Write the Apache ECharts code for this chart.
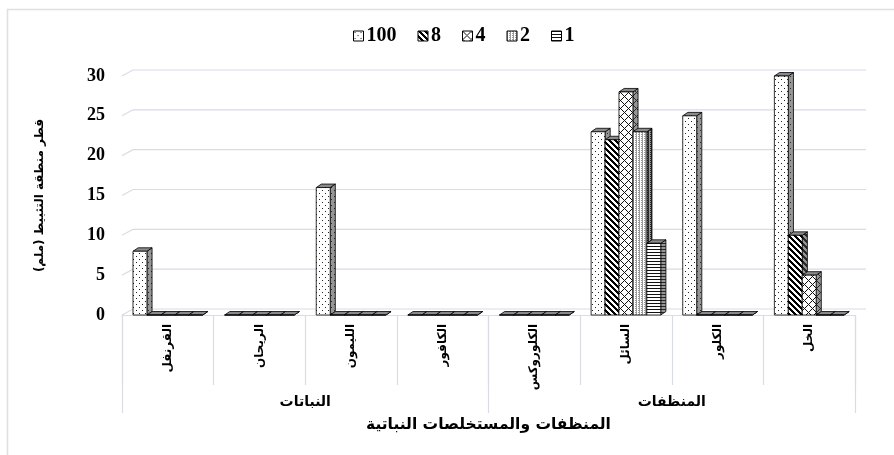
<!DOCTYPE html>
<html>
<head>
<meta charset="utf-8">
<style>
  html, body { margin: 0; padding: 0; background: #fff; }
  #chart { width: 894px; height: 455px; }
</style>
<script src="https://cdn.jsdelivr.net/npm/echarts@6/dist/echarts.min.js"></script>
</head>
<body>
<div id="chart"></div>
<script>
// Inhibition-zone diameters (mm) per agent, one list per concentration
const categories = ['القرنفل', 'الريحان', 'الليمون', 'الكافور', 'الكلوروكس', 'السائل', 'الكلور', 'الخل'];
const groups = ['النباتات', 'المنظفات'];
const seriesNames = ['100', '8', '4', '2', '1'];
const conc100 = [8, 0, 16, 0, 0, 23, 25, 30];
const conc8   = [0, 0, 0, 0, 0, 22, 0, 10];
const conc4   = [0, 0, 0, 0, 0, 28, 0, 5];
const conc2   = [0, 0, 0, 0, 0, 23, 0, 0];
const conc1   = [0, 0, 0, 0, 0, 9, 0, 0];
const yTicks  = [0, 5, 10, 15, 20, 25, 30];

const seriesValues = [conc100, conc8, conc4, conc2, conc1];

// --- hatch fills -------------------------------------------------------
function tile(w, h, bg, ink, test) {
  const c = document.createElement('canvas');
  c.width = w; c.height = h;
  const g = c.getContext('2d');
  g.fillStyle = bg; g.fillRect(0, 0, w, h);
  g.fillStyle = ink;
  for (let y = 0; y < h; y++) for (let x = 0; x < w; x++) if (test(x, y)) g.fillRect(x, y, 1, 1);
  return { image: c, repeat: 'repeat' };
}
const patternTests = [
  // sparse dots
  [6, 6, (x, y) => (x === 1 && y === 1) || (x === 4 && y === 4)],
  // wide downward diagonal
  [6, 6, (x, y) => ((x - y + 12) % 6) < 3],
  // diagonal lattice
  [8, 8, (x, y) => ((x + y) % 8 === 0) || ((x - y + 8) % 8 === 0)],
  // fine grey grid
  [3, 2, (x, y) => x === 0 || (y === 0 && x === 2)],
  // horizontal lines
  [1, 3, (x, y) => y === 0]
];
const inkFront = ['#222', '#000', '#111', '#9a9a9a', '#111'];
const frontFills = patternTests.map((p, i) => tile(p[0], p[1], '#ffffff', inkFront[i], p[2]));
const sideFills  = patternTests.map((p, i) => tile(p[0], p[1], '#969696', '#2a2a2a', p[2]));

// --- 3D column drawing -------------------------------------------------
function barRenderer(k) {
  return function (params, api) {
    const cat = api.value(0), v = api.value(1);
    const top = api.coord([cat, v]);
    const base = api.coord([cat, 0]);
    const band = api.size([1, 0])[0];
    const bw = band * 0.152;
    const dx = bw * 0.37, dy = bw * 0.25;
    const x0 = top[0] + (k - 2.5) * bw, x1 = x0 + bw;
    const yt = top[1], yb = base[1];
    const line = { stroke: '#000', lineWidth: 0.8 };
    return {
      type: 'group',
      children: [
        { type: 'polygon', shape: { points: [[x1, yt], [x1 + dx, yt - dy], [x1 + dx, yb - dy], [x1, yb]] },
          style: Object.assign({ fill: sideFills[k] }, line) },
        { type: 'polygon', shape: { points: [[x0, yt], [x0 + dx, yt - dy], [x1 + dx, yt - dy], [x1, yt]] },
          style: Object.assign({ fill: '#8a8a8a' }, line) },
        { type: 'rect', shape: { x: x0, y: yt, width: bw, height: yb - yt },
          style: Object.assign({ fill: frontFills[k] }, line) }
      ]
    };
  };
}

// back-wall gridlines with a short depth slant at the left
function gridRenderer(params, api) {
  const cs = params.coordSys;
  const y = api.coord([0, api.value(1)])[1];
  return {
    type: 'polyline',
    shape: { points: [[cs.x, y], [cs.x + 11, y - 6], [cs.x + cs.width + 11, y - 6]] },
    style: { stroke: '#d9dce6', lineWidth: 1.2, fill: null }
  };
}

const serifBold = { fontFamily: 'Liberation Serif', fontWeight: 'bold', color: '#000' };
const arabicBold = { fontFamily: 'DejaVu Sans', fontWeight: 'bold', color: '#000' };

const chart = echarts.init(document.getElementById('chart'), null, { renderer: 'canvas' });

const series = [{
  type: 'custom',
  name: 'grid',
  silent: true,
  z: 1,
  data: yTicks.map(t => [0, t]),
  encode: { x: 0, y: 1 },
  renderItem: gridRenderer
}].concat(seriesNames.map((name, k) => ({
  type: 'custom',
  name: name,
  z: 2,
  itemStyle: { color: frontFills[k], borderColor: '#000', borderWidth: 1 },
  data: seriesValues[k].map((v, i) => [i, v]),
  encode: { x: 0, y: 1 },
  renderItem: barRenderer(k)
})));

chart.setOption({
  animation: false,
  backgroundColor: '#fff',
  graphic: [{
    type: 'rect',
    silent: true,
    shape: { x: 7.5, y: 9.5, width: 1000, height: 1000 },
    style: { fill: null, stroke: '#dde0e6', lineWidth: 1.5 }
  }],
  legend: {
    top: 21,
    left: 348,
    itemWidth: 10,
    itemHeight: 10,
    itemGap: 21,
    icon: 'rect',
    textStyle: Object.assign({ fontSize: 20, padding: [0, 0, 0, -2] }, serifBold),
    data: seriesNames.map((n, k) => ({
      name: n,
      icon: 'rect',
      itemStyle: { color: frontFills[k], borderColor: '#000', borderWidth: 1 }
    }))
  },
  grid: { left: 122, right: 39, top: 76, bottom: 140 },
  xAxis: [{
    type: 'category',
    data: categories,
    position: 'bottom',
    axisLine: { show: true, lineStyle: { color: '#d9dce3', width: 1 } },
    axisTick: { show: true, interval: 0, length: 70, lineStyle: { color: '#d9dce3', width: 1.2 } },
    axisLabel: Object.assign({ interval: 0, rotate: 90, margin: 9, fontSize: 12 }, arabicBold),
    splitLine: { show: false }
  }, {
    type: 'category',
    data: groups,
    position: 'bottom',
    axisLine: { show: false },
    axisTick: { show: true, interval: 0, length: 98, lineStyle: { color: '#d9dce3', width: 1.2 } },
    axisLabel: Object.assign({ interval: 0, margin: 80, fontSize: 14 }, arabicBold),
    name: 'المنظفات والمستخلصات النباتية',
    nameLocation: 'middle',
    nameGap: 102,
    nameTextStyle: Object.assign({ fontSize: 15.5 }, arabicBold)
  }],
  yAxis: {
    type: 'value',
    min: 0,
    max: 30,
    interval: 5,
    axisLine: { show: false },
    axisTick: { show: false },
    splitLine: { show: false },
    axisLabel: Object.assign({ fontSize: 18, margin: 17 }, serifBold),
    name: 'قطر منطقة التثبيط (ملم)',
    nameLocation: 'middle',
    nameRotate: 90,
    nameGap: 76,
    nameTextStyle: Object.assign({ fontSize: 12 }, arabicBold)
  },
  series: series
});
</script>
</body>
</html>
